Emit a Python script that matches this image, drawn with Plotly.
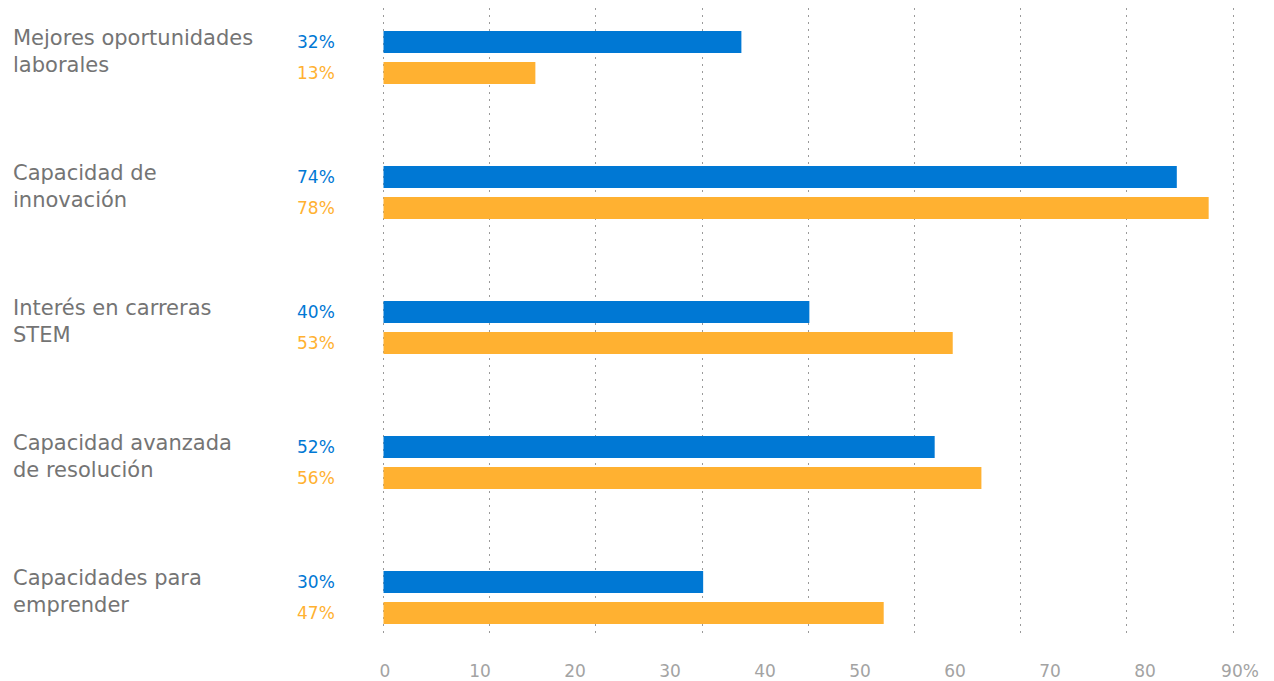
import plotly.graph_objects as go

categories = [
    "Mejores oportunidades<br>laborales",
    "Capacidad de<br>innovación",
    "Interés en carreras<br>STEM",
    "Capacidad avanzada<br>de resolución",
    "Capacidades para<br>emprender",
]
keys = ["c1", "c2", "c3", "c4", "c5"]
blue_values = [33.7, 74.7, 40.1, 51.9, 30.1]
orange_values = [14.3, 77.7, 53.6, 56.3, 47.1]
blue_labels = ["32%", "74%", "40%", "52%", "30%"]
orange_labels = ["13%", "78%", "53%", "56%", "47%"]
grid_vals = [0, 10, 20, 30, 40, 50, 60, 70, 80]
tick_vals = [0, 10, 20, 30, 40, 50, 60, 70, 80, 90]
tick_text = ["0", "10", "20", "30", "40", "50", "60", "70", "80", "90%"]

BLUE = "#0078D4"
ORANGE = "#FFB131"
TEXT = "#747474"
TICK = "#a3a3a3"
FONT = "DejaVu Sans, sans-serif"

W, H = 1274, 681
ML, MR, MT, MB = 381, 24, 8, 43
pw = W - ML - MR
px_per_unit = 10.62
x_min = -2.5 / px_per_unit
x_max = x_min + pw / px_per_unit
px_per_unit2 = 9.5
x2_min = -4.0 / px_per_unit2
x2_max = x2_min + pw / px_per_unit2

fig = go.Figure()
fig.add_trace(go.Bar(y=keys, x=blue_values, orientation="h",
                     marker=dict(color=BLUE, line=dict(width=0)),
                     hoverinfo="skip", showlegend=False))
fig.add_trace(go.Bar(y=keys, x=orange_values, orientation="h",
                     marker=dict(color=ORANGE, line=dict(width=0)),
                     hoverinfo="skip", showlegend=False))
# invisible trace to activate the label axis
fig.add_trace(go.Scatter(x=[0], y=[keys[0]], xaxis="x2", mode="markers",
                         marker=dict(opacity=0), hoverinfo="skip", showlegend=False))

annotations = []
for k, cat, bl, ol in zip(keys, categories, blue_labels, orange_labels):
    annotations.append(dict(
        x=(11 - ML) / pw, xref="paper", y=k, yref="y",
        text=cat, showarrow=False, xanchor="left", yanchor="middle",
        align="left", yshift=6,
        font=dict(family=FONT, size=21, color=TEXT)))
    annotations.append(dict(
        x=(337 - ML) / pw, xref="paper", y=k, yref="y",
        text=bl, showarrow=False, xanchor="right", yanchor="middle",
        yshift=15.5, font=dict(family=FONT, size=17, color=BLUE)))
    annotations.append(dict(
        x=(337 - ML) / pw, xref="paper", y=k, yref="y",
        text=ol, showarrow=False, xanchor="right", yanchor="middle",
        yshift=-15.5, font=dict(family=FONT, size=17, color=ORANGE)))

fig.update_layout(
    width=W, height=H,
    margin=dict(l=ML, r=MR, t=MT, b=MB, autoexpand=False),
    plot_bgcolor="white", paper_bgcolor="white",
    barmode="group", bargap=0.541, bargroupgap=0.29,
    xaxis=dict(range=[x_min, x_max], tickvals=grid_vals, showticklabels=False,
               showgrid=True, gridcolor="#9a9a9a", griddash="2px,5px", gridwidth=1,
               zeroline=False, showline=False, ticks="", automargin=False),
    xaxis2=dict(overlaying="x", side="bottom", range=[x2_min, x2_max],
                tickvals=tick_vals, ticktext=tick_text, showgrid=False,
                zeroline=False, showline=False, ticks="outside", ticklen=18,
                tickcolor="rgba(0,0,0,0)", automargin=False,
                tickfont=dict(family=FONT, size=17, color=TICK)),
    yaxis=dict(type="category", categoryorder="array", categoryarray=keys,
               range=[4.3, -0.367], showticklabels=False, showgrid=False,
               zeroline=False, showline=False, ticks="", automargin=False),
    annotations=annotations,
)

fig.write_html(
    "out.html",
    config={"displayModeBar": False},
    post_script="document.body.style.margin='0';document.body.style.overflow='hidden';",
)
